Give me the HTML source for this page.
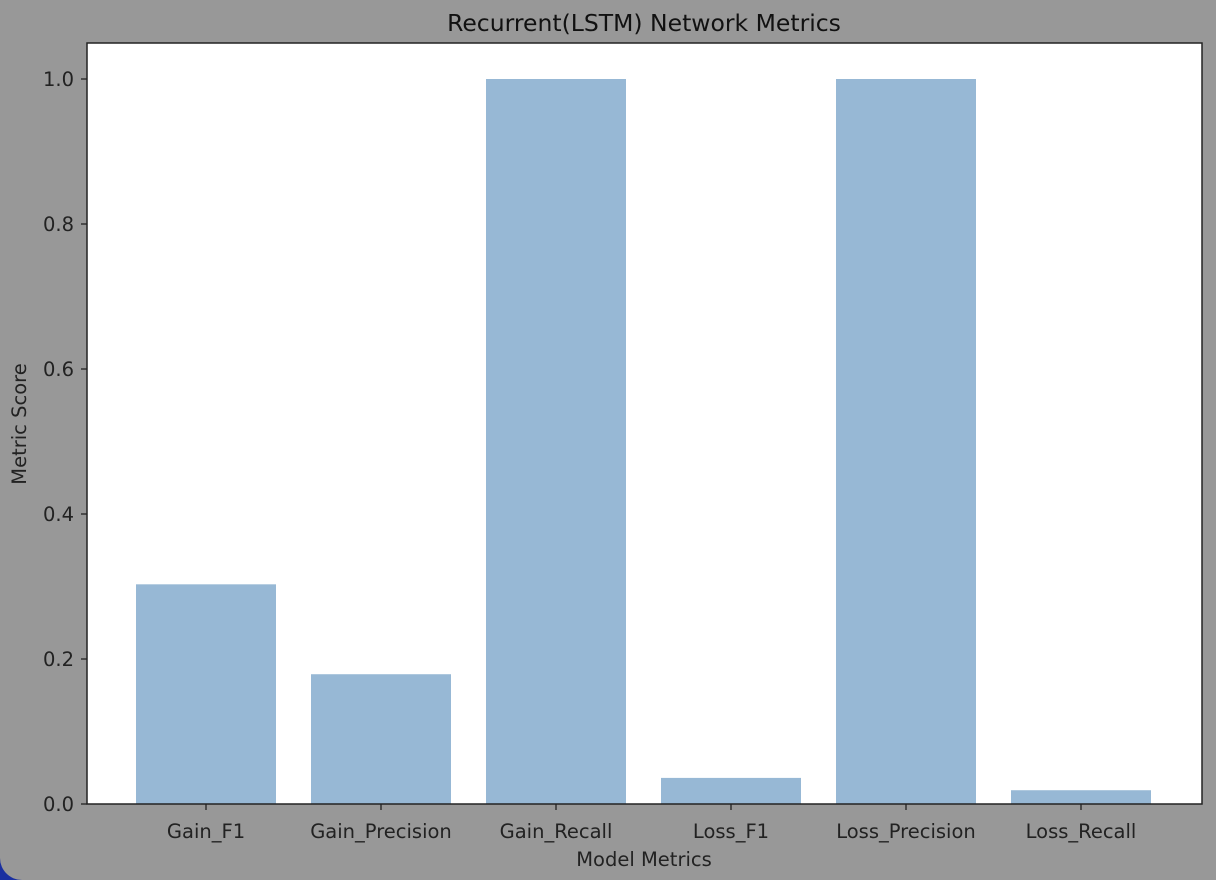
<!DOCTYPE html>
<html><head><meta charset="utf-8"><style>
body{margin:0;width:1216px;height:880px;overflow:hidden;background:#1a2fa0;}
#bg{position:absolute;left:0;top:0;width:1216px;height:880px;background:#989898;border-radius:0 0 0 22px;}
svg{position:absolute;left:0;top:0;font-family:"DejaVu Sans","Liberation Sans",sans-serif;}
</style></head><body>
<div id="bg"></div>
<svg id="chart" width="1216" height="880"></svg>
<script>
const categories=["Gain_F1","Gain_Precision","Gain_Recall","Loss_F1","Loss_Precision","Loss_Recall"];
const values=[0.303,0.179,1.0,0.036,1.0,0.019];
const yTicks=[0,0.2,0.4,0.6,0.8,1.0];
const yTickLabels=["0.0","0.2","0.4","0.6","0.8","1.0"];
const L=87,R=1202,T=43,B=804;
const band=175,x0=206;
function xs(i){return x0+band*i;}
function ys(v){return B-v*725;}
const svg=document.getElementById('chart');
const NS="http://www.w3.org/2000/svg";
function mk(tag,attrs,parent){const e=document.createElementNS(NS,tag);for(const k in attrs)e.setAttribute(k,attrs[k]);(parent||svg).appendChild(e);return e;}
const plot=mk('rect',{x:L,y:T,width:R-L,height:B-T,fill:'#fff'});


categories.forEach((c,i)=>{
  const b=mk('rect',{x:xs(i)-70,y:ys(values[i]),width:140,height:B-ys(values[i]),fill:'#97b8d5'});
  
  
  mk('line',{x1:xs(i),x2:xs(i),y1:B,y2:B+6,stroke:'#222','stroke-width':1.3});
  const t=mk('text',{x:xs(i),y:B+34,'text-anchor':'middle','font-size':19.5,fill:'#222'});
  t.textContent=c;
  
  
});
yTicks.forEach((v,i)=>{
  mk('line',{x1:L-6,x2:L,y1:ys(v),y2:ys(v),stroke:'#222','stroke-width':1.3});
  const t=mk('text',{x:L-13,y:ys(v)+7,'text-anchor':'end','font-size':19.5,fill:'#222'});
  t.textContent=yTickLabels[i];
  
  
});
const fr=mk('rect',{x:L,y:T,width:R-L,height:B-T,fill:'none',stroke:'#222','stroke-width':1.5});


const ti=mk('text',{x:644,y:31,'text-anchor':'middle','font-size':23.5,fill:'#111'});
ti.textContent="Recurrent(LSTM) Network Metrics";


const xl=mk('text',{x:644,y:866,'text-anchor':'middle','font-size':19.5,fill:'#222'});
xl.textContent="Model Metrics";


const yl=mk('text',{x:26,y:424,'text-anchor':'middle','font-size':19.5,fill:'#222',transform:'rotate(-90 26 424)'});
yl.textContent="Metric Score";


</script>
</body></html>
